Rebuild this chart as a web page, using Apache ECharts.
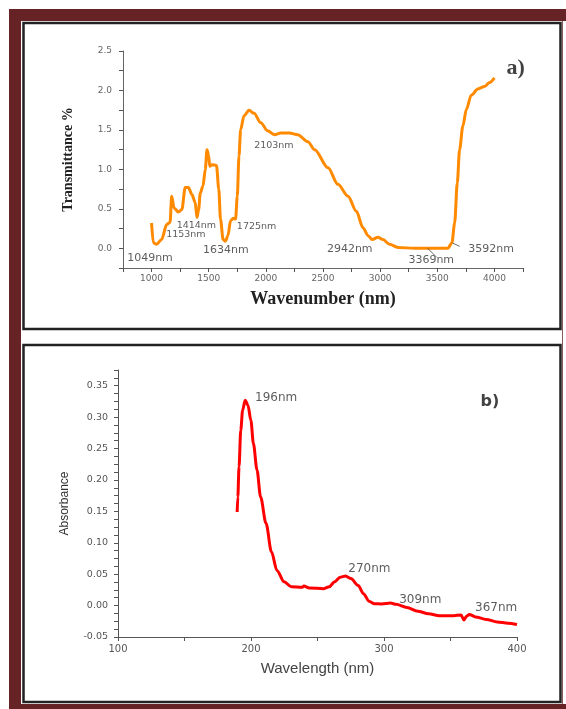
<!DOCTYPE html>
<html>
<head>
<meta charset="utf-8">
<script src="https://cdn.jsdelivr.net/npm/echarts@6/dist/echarts.min.js"></script>
<style>
html,body{margin:0;padding:0;background:#fff;}
#chart{width:566px;height:709px;}
</style>
</head>
<body>
<div id="chart"></div>
<script>
// ---- Panel a) FTIR-like spectrum ----
const irX = [1000,1015,1044,1088,1132,1162,1176,1197,1235,1265,1294,1323,1353,1382,1397,1412,1426,1450,1470,1485,1500,1509,1529,1568,1588,1603,1626,1647,1668,1691,1715,1735,1750,1765,1779,1809,1853,1897,1956,2015,2074,2132,2206,2279,2368,2427,2544,2631,2719,2792,2850,2894,2931,2981,3025,3083,3156,3300,3450,3593,3628,3652,3675,3695,3724,3754,3797,3855,3914,3958,4000];
const irY = [0.32,0.07,0.05,0.11,0.30,0.33,0.66,0.51,0.46,0.49,0.77,0.77,0.68,0.58,0.39,0.49,0.70,0.79,1.0,1.25,1.17,1.04,1.06,1.05,0.75,0.37,0.11,0.09,0.16,0.35,0.38,0.37,0.66,1.17,1.5,1.68,1.75,1.71,1.59,1.49,1.44,1.46,1.46,1.44,1.35,1.25,1.02,0.81,0.66,0.47,0.26,0.16,0.11,0.14,0.11,0.05,0.01,0.0,0.0,0.0,0.07,0.32,0.83,1.25,1.55,1.76,1.94,2.02,2.05,2.1,2.16];
const irXTickLabels = [1000,1500,2000,2500,3000,3500,4000];
const irYTickLabels = [0.0,0.5,1.0,1.5,2.0,2.5];
// annotation: [text, x, y]
const irLabelsLarge = [["1049nm",986,-0.13],["1634nm",1650,-0.025],["2942nm",2734,-0.01],["3369nm",3447,-0.15],["3592nm",3971,-0.01]];
const irLabelsSmall = [["1153nm",1300,0.18],["1414nm",1392,0.29],["1725nm",1919,0.28],["2103nm",2070,1.30]];
const irLeaders = [[[3416,0.0],[3494,-0.114]],[[3632,0.067],[3696,0.025]]];
const irPanelTag = [["a)",4185,2.28]];

// ---- Panel b) UV-Vis spectrum ----
const uvX = [189.6,190.1,191,192.3,193.7,195.6,197.7,199.9,201.8,204.5,207.2,211.3,215.4,219.5,224.9,230.3,238.5,239.8,243.9,254.8,258.8,262.9,267,271,275.1,280.6,284.6,288.7,292.8,298.2,305,309.1,317.2,325.4,333.5,341.6,352.5,357.9,360.1,362,364.2,368.8,376.9,385.1,393.2,400];
const uvY = [0.149,0.173,0.221,0.279,0.311,0.327,0.319,0.295,0.258,0.216,0.173,0.131,0.0855,0.056,0.038,0.030,0.029,0.031,0.028,0.027,0.030,0.038,0.045,0.047,0.043,0.032,0.019,0.007,0.003,0.0027,0.004,0.002,-0.003,-0.009,-0.013,-0.016,-0.016,-0.015,-0.023,-0.017,-0.014,-0.018,-0.022,-0.026,-0.028,-0.030];
const uvXTickLabels = [100,200,300,400];
const uvYTickLabels = [-0.05,0.00,0.05,0.10,0.15,0.20,0.25,0.30,0.35];
const uvLabels = [["196nm",218.9,0.33],["270nm",289,0.059],["309nm",327.3,0.0096],["367nm",384.3,-0.003]];
const uvPanelTag = [["b)",379.7,0.324]];

const near = (v, list) => list.some(t => Math.abs(v - t) < 1e-6);
const zip = (xs, ys) => xs.map((x, i) => [x, ys[i]]);

const chart = echarts.init(document.getElementById('chart'), null, {renderer: 'canvas'});

const sansTick = {fontFamily: 'DejaVu Sans', fontSize: 9, color: '#666'};
const maroon = '#662326';

function textSeries(name, xi, yi, data, style) {
  return {
    type: 'scatter', name, xAxisIndex: xi, yAxisIndex: yi,
    data: data.map(d => [d[1], d[2], d[0]]),
    symbolSize: 1, itemStyle: {color: 'rgba(0,0,0,0)'},
    silent: true, z: 5,
    label: Object.assign({show: true, position: 'inside', formatter: p => p.data[2]}, style)
  };
}

const option = {
  animation: false,
  backgroundColor: '#fff',
  graphic: [
    // maroon page border
    {type: 'rect', shape: {x: 9, y: 9, width: 12, height: 700}, style: {fill: maroon}, z: -10},
    {type: 'rect', shape: {x: 9, y: 9, width: 557, height: 12}, style: {fill: maroon}, z: -10},
    {type: 'rect', shape: {x: 9, y: 704, width: 557, height: 5}, style: {fill: maroon}, z: -10},
    {type: 'rect', shape: {x: 562, y: 21, width: 1, height: 683}, style: {fill: '#8a5a5a'}, z: -10},
    // panel frames
    {type: 'rect', shape: {x: 23.5, y: 23, width: 537, height: 306}, style: {fill: 'none', stroke: '#222', lineWidth: 2.5}, z: -5},
    {type: 'rect', shape: {x: 23.5, y: 345, width: 537, height: 357}, style: {fill: 'none', stroke: '#222', lineWidth: 2.5}, z: -5}
  ],
  grid: [
    {left: 123, right: 43, top: 51, bottom: 441},
    {left: 118, right: 49, top: 370, bottom: 72}
  ],
  xAxis: [
    {
      type: 'value', gridIndex: 0, min: 750, max: 4250, interval: 250,
      name: 'Wavenumber (nm)', nameLocation: 'middle', nameGap: 22,
      nameTextStyle: {fontFamily: 'Liberation Serif', fontWeight: 'bold', fontSize: 18, color: '#222'},
      axisLine: {show: true, onZero: false, lineStyle: {color: '#666', width: 1}},
      axisTick: {show: true, length: 4, lineStyle: {color: '#555'}},
      axisLabel: Object.assign({margin: 6, formatter: v => near(v, irXTickLabels) ? String(v) : ''}, sansTick),
      splitLine: {show: false}
    },
    {
      type: 'value', gridIndex: 1, min: 100, max: 400, interval: 50,
      name: 'Wavelength (nm)', nameLocation: 'middle', nameGap: 24,
      nameTextStyle: {fontFamily: 'Liberation Sans', fontSize: 15, color: '#444'},
      axisLine: {show: true, onZero: false, lineStyle: {color: '#555', width: 1}},
      axisTick: {show: true, length: 4, lineStyle: {color: '#555'}},
      axisLabel: Object.assign({margin: 7, formatter: v => near(v, uvXTickLabels) ? String(v) : ''}, sansTick, {fontSize: 10, color: '#555'}),
      splitLine: {show: false}
    }
  ],
  yAxis: [
    {
      type: 'value', gridIndex: 0, min: -0.25, max: 2.5, interval: 0.25,
      name: 'Transmittance %', nameLocation: 'middle', nameGap: 48,
      nameTextStyle: {fontFamily: 'Liberation Serif', fontWeight: 'bold', fontSize: 14, color: '#222'},
      axisLine: {show: true, onZero: false, lineStyle: {color: '#666', width: 1}},
      axisTick: {show: true, length: 4, lineStyle: {color: '#555'}},
      axisLabel: Object.assign({margin: 11, formatter: v => near(v, irYTickLabels) ? v.toFixed(1) : ''}, sansTick),
      splitLine: {show: false}
    },
    {
      type: 'value', gridIndex: 1, min: -0.05, max: 0.375, interval: 0.0125,
      name: 'Absorbance', nameLocation: 'middle', nameGap: 47,
      nameTextStyle: {fontFamily: 'Liberation Sans', fontSize: 12, color: '#333'},
      axisLine: {show: true, onZero: false, lineStyle: {color: '#555', width: 1}},
      axisTick: {show: true, length: 4, lineStyle: {color: '#555'}},
      axisLabel: Object.assign({margin: 10, formatter: v => near(v, uvYTickLabels) ? v.toFixed(2) : ''}, sansTick, {fontSize: 9.5, color: '#555'}),
      splitLine: {show: false}
    }
  ],
  series: [
    {
      type: 'line', name: 'IR', xAxisIndex: 0, yAxisIndex: 0,
      data: zip(irX, irY), showSymbol: false, smooth: 0.3, smoothMonotone: 'x',
      lineStyle: {color: '#FF8A00', width: 3}, itemStyle: {color: '#FF8A00'},
      markLine: {
        silent: true, symbol: 'none', label: {show: false},
        lineStyle: {color: '#444', width: 0.8, type: 'solid'},
        data: irLeaders.map(l => [{coord: l[0]}, {coord: l[1]}])
      }
    },
    {
      type: 'line', name: 'UV', xAxisIndex: 1, yAxisIndex: 1,
      data: zip(uvX, uvY), showSymbol: false, smooth: 0.3, smoothMonotone: 'x',
      lineStyle: {color: '#FF0000', width: 3}, itemStyle: {color: '#FF0000'}
    },
    textSeries('irLarge', 0, 0, irLabelsLarge, {fontFamily: 'DejaVu Sans', fontSize: 11, color: '#333'}),
    textSeries('irSmall', 0, 0, irLabelsSmall, {fontFamily: 'DejaVu Sans', fontSize: 9.5, color: '#333'}),
    textSeries('irTag', 0, 0, irPanelTag, {fontFamily: 'Liberation Serif', fontWeight: 'bold', fontSize: 22, color: '#111'}),
    textSeries('uvLab', 1, 1, uvLabels, {fontFamily: 'DejaVu Sans', fontSize: 12, color: '#333'}),
    textSeries('uvTag', 1, 1, uvPanelTag, {fontFamily: 'DejaVu Sans', fontWeight: 'bold', fontSize: 16, color: '#111'})
  ]
};
chart.setOption(option);
</script>
</body>
</html>
